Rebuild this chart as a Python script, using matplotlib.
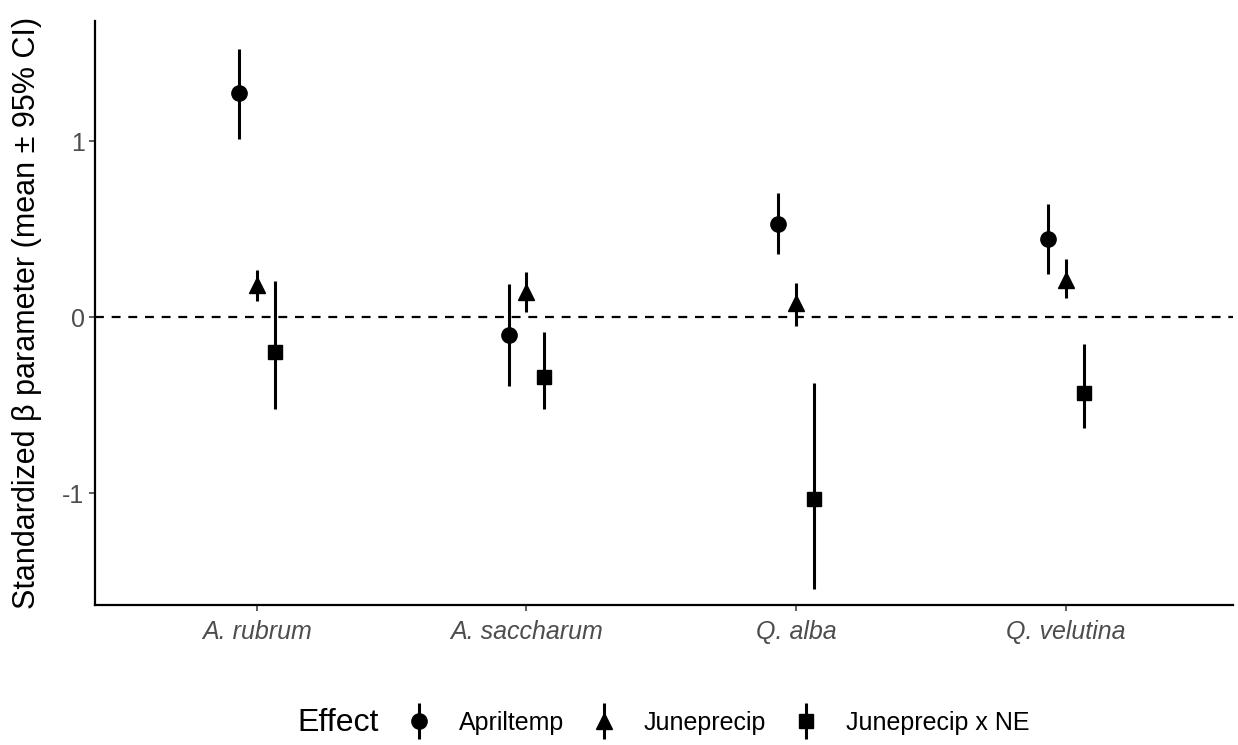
import numpy as np
import matplotlib
matplotlib.use("Agg")
import matplotlib.pyplot as plt
from matplotlib.legend_handler import HandlerErrorbar

plt.rcParams['font.family'] = ['Liberation Sans', 'DejaVu Sans']

# Data
species = ['A. rubrum', 'A. saccharum', 'Q. alba', 'Q. velutina']
effects = ['Apriltemp', 'Juneprecip', 'Juneprecip x NE']

april_mean = [1.274, -0.102, 0.528, 0.447]
april_lo = [1.016, -0.392, 0.358, 0.248]
april_hi = [1.527, 0.187, 0.706, 0.642]

june_mean = [0.185, 0.144, 0.080, 0.214]
june_lo = [0.092, 0.028, -0.049, 0.110]
june_hi = [0.267, 0.255, 0.193, 0.330]

ne_mean = [-0.197, -0.339, -1.034, -0.433]
ne_lo = [-0.522, -0.522, -1.544, -0.628]
ne_hi = [0.205, -0.084, -0.373, -0.153]

means = [april_mean, june_mean, ne_mean]
los = [april_lo, june_lo, ne_lo]
his = [april_hi, june_hi, ne_hi]
markers = ['o', '^', 's']
msizes = [11, 12, 10]
offsets = [-0.066, 0.0, 0.066]

fig = plt.figure(figsize=(12.38, 7.45), dpi=100)
ax = fig.add_axes([95 / 1238, 140 / 745, (1233 - 95) / 1238, (605 - 21) / 745])

x = np.arange(len(species))
ax.axhline(0, color='black', lw=1.6, ls=(0, (4, 3.5)), zorder=1)

handles = []
for m, lo, hi, mk, ms, off, lab in zip(means, los, his, markers, msizes, offsets, effects):
    m = np.array(m)
    err = np.vstack([m - np.array(lo), np.array(hi) - m])
    h = ax.errorbar(x + off, m, yerr=err, fmt=mk, ms=ms, color='black',
                    ecolor='black', elinewidth=2.2, capsize=0, label=lab, zorder=3)
    handles.append(h)

ax.set_xlim(-0.6, 3.62)
ax.set_ylim(-1.636, 1.685)
ax.set_xticks(x)
ax.set_xticklabels(species, fontstyle='italic')
ax.set_yticks([-1, 0, 1])
ax.set_yticklabels(['-1', '0', '1'])
ax.tick_params(axis='both', labelsize=18, colors='#333333', labelcolor='#4D4D4D',
               length=4.5, width=1.1)
ax.tick_params(axis='y', pad=3)
ax.tick_params(axis='x', pad=6)
ax.set_ylabel('Standardized β parameter (mean ± 95% CI)', fontsize=22)
ax.yaxis.set_label_coords(-0.0465, 0.5)

for s in ['top', 'right']:
    ax.spines[s].set_visible(False)
for s in ['left', 'bottom']:
    ax.spines[s].set_linewidth(1.6)

fig.text(297 / 1238, 1 - 723 / 745, 'Effect', fontsize=23, va='center', ha='left')
fig.legend(handles=handles, labels=effects, loc='center', ncol=3,
           bbox_to_anchor=(718 / 1238, 1 - 723 / 745), frameon=False,
           fontsize=18, handlelength=1.0, handletextpad=1.1, columnspacing=1.1,
           handler_map={h: HandlerErrorbar(yerr_size=0.72) for h in handles})

fig.savefig('out.png', dpi=100)
